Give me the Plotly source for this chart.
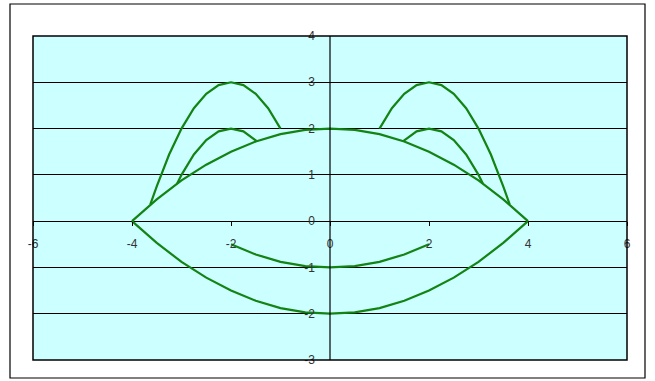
import plotly.graph_objects as go

# Face outline (upper arc and lower arc)
arc_x = [-4, -3.5, -3, -2.5, -2, -1.5, -1, -0.5, 0, 0.5, 1, 1.5, 2, 2.5, 3, 3.5, 4]
upper_arc_y = [0, 0.47, 0.88, 1.22, 1.5, 1.72, 1.88, 1.97, 2, 1.97, 1.88, 1.72, 1.5, 1.22, 0.88, 0.47, 0]
lower_arc_y = [0, -0.47, -0.88, -1.22, -1.5, -1.72, -1.88, -1.97, -2, -1.97, -1.88, -1.72, -1.5, -1.22, -0.88, -0.47, 0]

# Smile
smile_x = [-2, -1.5, -1, -0.5, 0, 0.5, 1, 1.5, 2]
smile_y = [-0.5, -0.72, -0.88, -0.97, -1, -0.97, -0.88, -0.72, -0.5]

# Outer ears
outer_ear_left_x = [-3.63, -3.5, -3.25, -3, -2.75, -2.5, -2.25, -2, -1.75, -1.5, -1.25, -1]
outer_ear_right_x = [3.63, 3.5, 3.25, 3, 2.75, 2.5, 2.25, 2, 1.75, 1.5, 1.25, 1]
outer_ear_y = [0.36, 0.75, 1.44, 2, 2.44, 2.75, 2.94, 3, 2.94, 2.75, 2.44, 2]

# Inner ears
inner_ear_left_x = [-3.09, -3, -2.75, -2.5, -2.25, -2, -1.75, -1.5, -1.48]
inner_ear_right_x = [3.09, 3, 2.75, 2.5, 2.25, 2, 1.75, 1.5, 1.48]
inner_ear_y = [0.81, 1, 1.44, 1.75, 1.94, 2, 1.94, 1.75, 1.73]

x_ticks = [-6, -4, -2, 0, 2, 4, 6]
y_ticks = [-3, -2, -1, 0, 1, 2, 3, 4]

GREEN = "#138313"
series = [
    (arc_x, upper_arc_y),
    (arc_x, lower_arc_y),
    (smile_x, smile_y),
    (outer_ear_left_x, outer_ear_y),
    (outer_ear_right_x, outer_ear_y),
    (inner_ear_left_x, inner_ear_y),
    (inner_ear_right_x, inner_ear_y),
]

fig = go.Figure()
for xs, ys in series:
    fig.add_trace(go.Scatter(x=xs, y=ys, mode="lines",
                             line=dict(color=GREEN, width=2.2),
                             showlegend=False, hoverinfo="skip"))

W, H = 655, 381
ml, mr, mt, mb = 33, 28, 36, 21
pw, ph = W - ml - mr, H - mt - mb

fig.update_layout(
    width=W, height=H,
    margin=dict(l=ml, r=mr, t=mt, b=mb, pad=0),
    paper_bgcolor="white",
    plot_bgcolor="#ccffff",
    font=dict(family="Liberation Sans, Arial, sans-serif", size=12, color="#333333"),
    showlegend=False,
    xaxis=dict(
        range=[-6, 6], tickvals=x_ticks, ticktext=[str(v) for v in x_ticks],
        showgrid=False, zeroline=False, showline=False,
        anchor="free", position=3 / 7,
        ticks="outside", ticklen=4, tickcolor="black", tickwidth=1,
        ticklabelstandoff=7,
    ),
    yaxis=dict(
        range=[-3, 4], tickvals=y_ticks, ticktext=[str(v) for v in y_ticks],
        showgrid=True, gridcolor="black", gridwidth=1,
        zeroline=True, zerolinecolor="black", zerolinewidth=1.2,
        showline=False,
        anchor="free", position=0.5,
        ticks="", ticklabelstandoff=15,
    ),
)

# y axis line at x=0 and plot-area border
fig.add_shape(type="line", xref="x", yref="paper", x0=0, x1=0, y0=0, y1=1,
              line=dict(color="black", width=1.2))
fig.add_shape(type="rect", xref="paper", yref="paper", x0=0, x1=1, y0=0, y1=1,
              line=dict(color="black", width=1.5))
# outer chart border
fig.add_shape(type="rect", xref="paper", yref="paper",
              x0=(10 - ml) / pw, x1=(645 - ml) / pw,
              y0=(H - mb - 378) / ph, y1=(H - mb - 4) / ph,
              line=dict(color="black", width=1.2))

fig.write_html("out.html",
               config={"displayModeBar": False, "staticPlot": True},
               post_script="document.body.style.margin='0';document.body.style.overflow='hidden';")
